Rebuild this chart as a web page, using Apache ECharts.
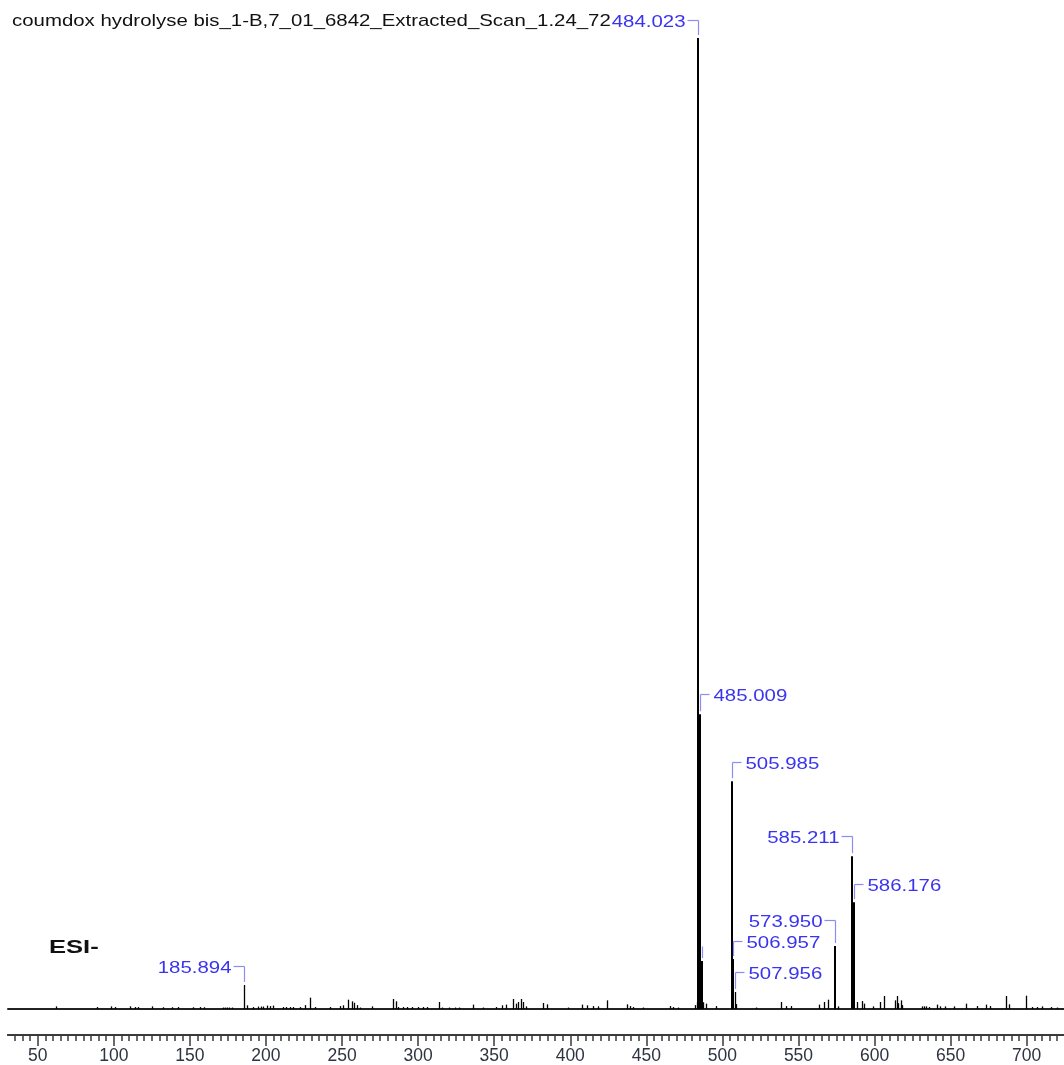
<!DOCTYPE html>
<html>
<head>
<meta charset="utf-8">
<script src="https://cdn.jsdelivr.net/npm/echarts@6/dist/echarts.min.js"></script>
<style>
html,body{margin:0;padding:0;background:#fff;}
#chart{width:1064px;height:1065px;}
</style>
</head>
<body>
<div id="chart"></div>
<script>
// ---- data (m/z, relative intensity %) ----
const mzValues = [
  62.0, 88.8, 98.2, 100.8, 110.7, 114.0, 116.0, 124.9, 132.4, 138.0, 142.2, 152.1, 156.7, 159.4,
  171.5, 173.0, 174.5, 176.0, 177.5, 185.894, 187.4, 191.5, 195.0, 196.5, 198.0, 200.7, 202.5, 204.8,
  211.0, 213.5, 216.0, 217.8, 222.4, 225.7, 229.0, 232.3, 242.1, 248.7, 250.9, 254.1, 256.4, 257.9,
  259.7, 261.8, 269.5, 283.7, 285.3, 287.0, 290.0, 293.0, 296.0, 300.0, 303.0, 306.0, 313.8, 316.0,
  320.0, 324.0, 327.0, 335.9, 342.9, 351.2, 355.0, 357.8, 362.2, 364.4, 365.9, 367.4, 369.2, 370.9,
  382.3, 384.5, 398.7, 407.5, 410.8, 415.2, 418.5, 424.0, 437.1, 439.3, 441.5, 448.0, 465.6, 467.7,
  471.0, 482.3, 483.0, 484.023, 485.009, 486.4, 487.5, 489.0, 495.6, 505.985, 506.957, 507.956, 508.8,
  522.0, 538.7, 542.0, 545.0, 563.5, 566.8, 569.6, 573.950, 575.7, 585.211, 586.176, 588.7, 592.0,
  593.1, 599.2, 603.6, 606.5, 613.5, 614.6, 615.7, 617.2, 617.9, 631.0, 632.5, 634.0, 635.5, 640.9,
  643.2, 646.5, 652.0, 659.9, 667.6, 673.1, 675.7, 686.2, 688.4, 699.4, 703.7, 707.0, 710.3, 715.8, 720.1
];
const intensities = [
  0.27, 0.20, 0.27, 0.20, 0.27, 0.20, 0.20, 0.27, 0.18, 0.18, 0.20, 0.18, 0.20, 0.18,
  0.15, 0.15, 0.15, 0.15, 0.15, 2.47, 0.38, 0.20, 0.25, 0.25, 0.25, 0.35, 0.30, 0.35,
  0.20, 0.20, 0.20, 0.20, 0.20, 0.40, 1.17, 0.20, 0.20, 0.30, 0.38, 0.96, 0.79, 0.65,
  0.40, 0.15, 0.27, 1.03, 0.79, 0.20, 0.20, 0.20, 0.20, 0.20, 0.20, 0.20, 0.72, 0.15,
  0.15, 0.15, 0.15, 0.45, 0.15, 0.20, 0.38, 0.45, 1.03, 0.55, 0.72, 1.03, 0.72, 0.27,
  0.62, 0.48, 0.15, 0.45, 0.38, 0.30, 0.27, 0.89, 0.48, 0.30, 0.20, 0.15, 0.30, 0.20,
  0.15, 0.40, 0.70, 100.0, 30.35, 4.94, 0.70, 0.55, 0.30, 23.46, 5.14, 1.75, 0.50,
  0.15, 0.72, 0.30, 0.30, 0.45, 0.72, 0.96, 6.48, 0.27, 15.74, 11.0, 0.72, 0.82,
  0.55, 0.27, 0.72, 1.34, 0.89, 1.34, 0.60, 0.89, 0.40, 0.27, 0.27, 0.27, 0.20, 0.45,
  0.27, 0.27, 0.27, 0.55, 0.30, 0.45, 0.30, 1.34, 0.48, 1.37, 0.20, 0.20, 0.27, 0.20, 0.15
];
// peaks carrying a label (m/z values, looked up in the arrays above)
const labeledMz = [484.023, 485.009, 505.985, 506.957, 507.956, 573.950, 585.211, 586.176, 185.894, 486.4];
const majorTicks = [50, 100, 150, 200, 250, 300, 350, 400, 450, 500, 550, 600, 650, 700];
const minorTicks = [];
for (let v = 35; v <= 720; v += 5) { if (v % 50 !== 0) minorTicks.push(v); }
const titleText = 'coumdox hydrolyse bis_1-B,7_01_6842_Extracted_Scan_1.24_72';
const modeText = 'ESI-';

// ---- label layout (placement only) ----
const labelLayout = [
  {side: 'left',  lift: 18, text: true},
  {side: 'right', lift: 20, text: true},
  {side: 'right', lift: 19, text: true},
  {side: 'right', lift: 18, text: true},
  {side: 'right', lift: 20, text: true},
  {side: 'left',  lift: 26, text: true},
  {side: 'left',  lift: 20, text: true},
  {side: 'right', lift: 18, text: true},
  {side: 'left',  lift: 19, text: true},
  {side: 'none',  lift: 15, text: false}
];

const FONT = '"Liberation Sans", Arial, sans-serif';
const TXT_BLUE = '#3a34ee';
const BRACKET = '#8c8cf4';
const AXIS_COL = '#3a3a3a';

const peakData = mzValues.map((m, i) => [m, intensities[i]]);
const labelData = labeledMz.map(m => [m, intensities[mzValues.indexOf(m)]]);

const chart = echarts.init(document.getElementById('chart'), null, {renderer: 'canvas'});

const xCommon = {type: 'value', min: 30.48, max: 724.5, splitLine: {show: false}};

chart.setOption({
  animation: false,
  backgroundColor: '#fff',
  grid: {left: 8, right: 0, top: 38, bottom: 55, containLabel: false},
  xAxis: [
    Object.assign({}, xCommon, {
      position: 'bottom', offset: 0,
      axisLine: {show: true, onZero: false, lineStyle: {color: '#222', width: 2}},
      axisTick: {show: false}, axisLabel: {show: false}
    }),
    Object.assign({}, xCommon, {
      position: 'bottom', offset: 26,
      axisLine: {show: true, onZero: false, lineStyle: {color: AXIS_COL, width: 2}},
      axisTick: {show: true, customValues: majorTicks, length: 11, lineStyle: {color: AXIS_COL, width: 1.5}},
      axisLabel: {show: true, customValues: majorTicks, margin: 12, fontSize: 17.5, fontFamily: FONT, color: '#2e3440'}
    }),
    Object.assign({}, xCommon, {
      position: 'bottom', offset: 26,
      axisLine: {show: true, onZero: false, lineStyle: {color: AXIS_COL, width: 2}},
      axisTick: {show: true, customValues: minorTicks, length: 6, lineStyle: {color: AXIS_COL, width: 1.5}},
      axisLabel: {show: false}
    })
  ],
  yAxis: {type: 'value', min: 0, max: 100, show: false, splitLine: {show: false}},
  graphic: [
    {type: 'text', x: 12, y: 21, scaleX: 1.2, z: 1,
     style: {text: titleText, font: '17px ' + FONT, fill: '#111', textAlign: 'left', textVerticalAlign: 'middle'}},
    {type: 'text', x: 49, y: 948, scaleX: 1.42, z: 1,
     style: {text: modeText, font: 'bold 18px ' + FONT, fill: '#111', textAlign: 'left', textVerticalAlign: 'middle'}}
  ],
  series: [
    {
      type: 'custom',
      name: 'spectrum',
      xAxisIndex: 0,
      data: peakData,
      encode: {x: 0, y: 1},
      z: 3,
      renderItem: function (params, api) {
        const m = api.value(0), v = api.value(1);
        const p0 = api.coord([m, 0]);
        const p1 = api.coord([m, v]);
        const w = v > 3 ? 2 : 1.3;
        const x = Math.round(p0[0]) + (w === 2 ? 0 : 0.5);
        return {type: 'line', shape: {x1: x, y1: p0[1], x2: x, y2: p1[1]},
                style: {stroke: '#000', lineWidth: w}};
      }
    },
    {
      type: 'custom',
      name: 'labels',
      xAxisIndex: 0,
      data: labelData,
      encode: {x: 0, y: 1},
      z: 5,
      renderItem: function (params, api) {
        const lay = labelLayout[params.dataIndex];
        const m = api.value(0), v = api.value(1);
        const p = api.coord([m, v]);
        const px = Math.round(p[0]) + 0.5;
        const top = p[1];
        const armY = Math.round(top - lay.lift) + 0.5;
        const children = [{type: 'line', shape: {x1: px, y1: top - 3, x2: px, y2: armY},
                           style: {stroke: BRACKET, lineWidth: 1.2}}];
        if (lay.side === 'right') {
          children.push({type: 'line', shape: {x1: px, y1: armY, x2: px + 9, y2: armY},
                         style: {stroke: BRACKET, lineWidth: 1.2}});
        } else if (lay.side === 'left') {
          children.push({type: 'line', shape: {x1: px - 11, y1: armY, x2: px, y2: armY},
                         style: {stroke: BRACKET, lineWidth: 1.2}});
        }
        if (lay.text) {
          const right = lay.side === 'right';
          children.push({type: 'text', x: right ? px + 13 : px - 13, y: armY + 1.5, scaleX: 1.2,
                         style: {text: m.toFixed(3), font: '17px ' + FONT, fill: TXT_BLUE,
                                 textAlign: right ? 'left' : 'right', textVerticalAlign: 'middle'}});
        }
        return {type: 'group', children: children};
      }
    }
  ]
});
</script>
</body>
</html>
